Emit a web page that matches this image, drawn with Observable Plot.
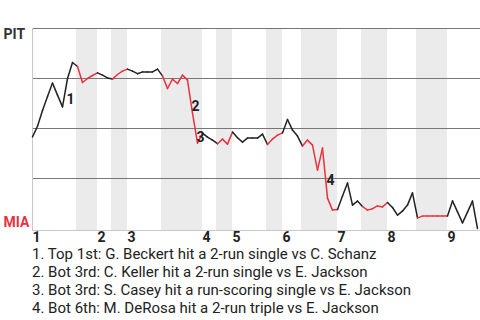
<!DOCTYPE html>
<html>
<head>
<meta charset="utf-8">
<script src="https://cdn.jsdelivr.net/npm/d3@7"></script>
<script src="https://cdn.jsdelivr.net/npm/@observablehq/plot@0.6"></script>
<style>
  html, body { margin: 0; padding: 0; background: #fff; }
  body { width: 480px; height: 320px; overflow: hidden; font-family: Roboto, sans-serif; }
  #chart svg { display: block; }
  #caption { font: 15px Roboto, sans-serif; color: #222; padding-left: 32px; margin-top: 3px; white-space: nowrap; }
  #caption div { line-height: 14px; height: 14px; margin-bottom: 4px; }
</style>
</head>
<body>
<div id="chart"></div>
<div id="caption"></div>
<script>
// Win probability for PIT (1 = PIT wins, 0 = MIA wins), one value per play
const winProb = [
  0.458, 0.511, 0.59, 0.66, 0.727, 0.667, 0.608, 0.75, 0.83, 0.81,
  0.73, 0.75, 0.765, 0.778, 0.767, 0.753, 0.747, 0.77, 0.787, 0.797,
  0.787, 0.774, 0.783, 0.783, 0.783, 0.797, 0.763, 0.70, 0.747, 0.725,
  0.767, 0.742, 0.577, 0.427, 0.477, 0.457, 0.442, 0.424, 0.447, 0.422,
  0.482, 0.454, 0.432, 0.452, 0.452, 0.452, 0.472, 0.42, 0.447, 0.467,
  0.478, 0.545, 0.492, 0.462, 0.412, 0.442, 0.417, 0.292, 0.402, 0.152,
  0.092, 0.095, 0.162, 0.228, 0.117, 0.137, 0.11, 0.092, 0.099, 0.113,
  0.108, 0.13, 0.105, 0.067, 0.087, 0.117, 0.178, 0.053, 0.062, 0.062,
  0.062, 0.062, 0.062, 0.062, 0.138, 0.083, 0.028, 0.082, 0.137, 0.0
];
// Play index where each inning starts (top half)
const inningLabels = ["1", "2", "3", "4", "5", "6", "7", "8", "9"];
const inningStart = [0, 13, 19, 34, 40, 50, 61, 71, 83];
// Play index where each bottom half starts (shaded)
const bottomStart = [9, 16, 26, 37, 47, 54, 66, 77];
const xEnd = 89.6;
// Teams
const teams = ["PIT", "MIA"];
const teamColors = ["#333333", "#e8333f"];
// Key events
const eventLabels = ["1", "2", "3", "4"];
const eventPlay = [7, 32, 33, 59];
const eventY = [0.647, 0.612, 0.457, 0.242];
const eventText = [
  "Top 1st: G. Beckert hit a 2-run single vs C. Schanz",
  "Bot 3rd: C. Keller hit a 2-run single vs E. Jackson",
  "Bot 3rd: S. Casey hit a run-scoring single vs E. Jackson",
  "Bot 6th: M. DeRosa hit a 2-run triple vs E. Jackson"
];
const gridValues = [0.25, 0.5, 0.75, 1];

// Build tables
const bands = bottomStart.map((s, k) => ({x1: s, x2: inningStart[k + 1]}));
const isBottom = i => bands.some(b => i >= b.x1 && i < b.x2);
const segments = d3.range(winProb.length - 1).map(i => ({
  x1: i, y1: winProb[i], x2: i + 1, y2: winProb[i + 1], bottom: isBottom(i)
}));
const innings = inningLabels.map((t, k) => ({x: inningStart[k], t}));
const events = eventLabels.map((t, k) => ({x: eventPlay[k], y: eventY[k], t}));

const chart = Plot.plot({
  width: 480,
  height: 244,
  marginLeft: 32,
  marginRight: 0,
  marginTop: 28,
  marginBottom: 16,
  style: {fontFamily: "Roboto, sans-serif", background: "#fff", overflow: "visible"},
  x: {domain: [0, xEnd], axis: null},
  y: {domain: [0, 1], axis: null},
  marks: [
    Plot.rect(bands, {x1: "x1", x2: "x2", fill: "#ebebeb", insetBottom: -2, insetLeft: -1}),
    Plot.ruleY(gridValues, {stroke: "#777", strokeWidth: 1}),
    Plot.ruleY([0], {stroke: "#c8c8c8", strokeWidth: 1, dy: 2}),
    Plot.ruleX([0], {stroke: "#c8c8c8", strokeWidth: 1, insetBottom: -2}),
    Plot.link(segments, {
      x1: "x1", y1: "y1", x2: "x2", y2: "y2",
      stroke: d => d.bottom ? "#e8333f" : "#222",
      strokeWidth: 1.5, strokeLinecap: "round", strokeLinejoin: "round"
    }),
    Plot.text(events, {
      x: "x", y: "y", text: "t", textAnchor: "start", lineAnchor: "middle",
      dx: -1, fontSize: 14, fontWeight: "bold", fill: "#222"
    }),
    Plot.text(innings, {
      x: "x", text: "t", frameAnchor: "bottom", textAnchor: "start", lineAnchor: "bottom",
      dy: 13, fontSize: 14, fontWeight: "bold", fill: "#222"
    }),
    Plot.text([teams[0]], {
      text: d => d, frameAnchor: "top-left", textAnchor: "start", lineAnchor: "top",
      dx: -29, dy: 1, fontSize: 14, fontWeight: "bold", fill: teamColors[0]
    }),
    Plot.text([teams[1]], {
      text: d => d, frameAnchor: "bottom-left", textAnchor: "start", lineAnchor: "bottom",
      dx: -29, dy: -2, fontSize: 14, fontWeight: "bold", fill: teamColors[1]
    })
  ]
});
document.getElementById("chart").append(chart);

const cap = document.getElementById("caption");
eventText.forEach((t, k) => {
  const div = document.createElement("div");
  div.textContent = `${eventLabels[k]}. ${t}`;
  cap.append(div);
});
</script>
</body>
</html>
